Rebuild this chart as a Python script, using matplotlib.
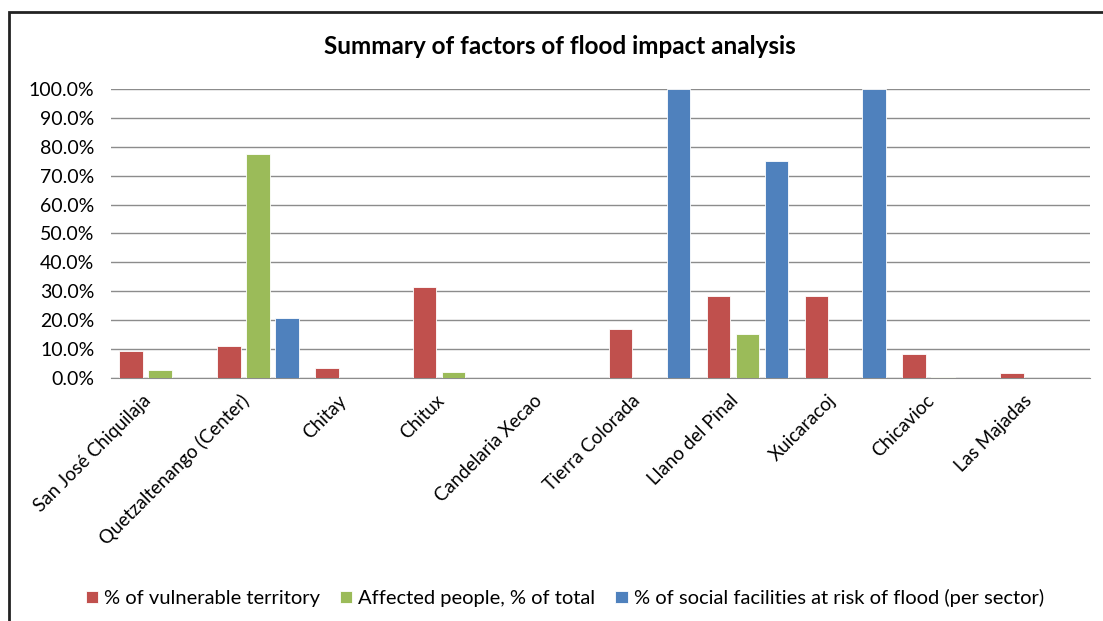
import matplotlib.pyplot as plt
import numpy as np
from matplotlib.patches import Rectangle
from matplotlib.ticker import PercentFormatter
from matplotlib.transforms import ScaledTranslation

plt.rcParams['font.family'] = ['Lato', 'DejaVu Sans']

sectors = ["San José Chiquilaja", "Quetzaltenango (Center)", "Chitay", "Chitux",
           "Candelaria Xecao", "Tierra Colorada", "Llano del Pinal", "Xuicaracoj",
           "Chicavioc", "Las Majadas"]
vulnerable = [9.3, 11.2, 3.4, 31.5, 0.0, 16.9, 28.4, 28.4, 8.3, 1.8]
affected = [2.9, 77.5, 0.0, 2.1, 0.0, 0.0, 15.1, 0.0, 0.5, 0.0]
facilities = [0.0, 20.9, 0.0, 0.0, 0.0, 100.0, 75.1, 100.0, 0.0, 0.0]

series = [
    ("% of vulnerable territory", vulnerable, "#c0504d"),
    ("Affected people, % of total", affected, "#9bbb59"),
    ("% of social facilities at risk of flood (per sector)", facilities, "#4f81bd"),
]

fig = plt.figure(figsize=(11.03, 6.21), dpi=100)
ax = fig.add_axes([111 / 1103, 0.3913, 979 / 1103, 0.4654])

x = np.arange(len(sectors))
step = 0.296
w = 0.24
for i, (name, vals, col) in enumerate(series):
    ax.bar(x + (i - 1) * step, vals, width=w, color=col, edgecolor="white",
           linewidth=0.6, label=name, zorder=3)

ax.set_xlim(-0.5, len(sectors) - 0.5)
ax.set_ylim(0, 100)
ax.set_yticks(np.arange(0, 101, 10))
ax.yaxis.set_major_formatter(PercentFormatter(decimals=1))
ax.grid(axis="y", color="#8c8c8c", linewidth=1.0, zorder=0)
for s in ["top", "right", "left"]:
    ax.spines[s].set_visible(False)
ax.spines["bottom"].set_color("#8c8c8c")
ax.tick_params(axis="y", length=0, labelsize=14, pad=12)
ax.tick_params(axis="x", length=0, labelsize=13.5, pad=10)
ax.set_xticks(x)
ax.set_xticklabels(sectors, rotation=45, ha="right", rotation_mode="anchor")
# nudge rotated labels a little to the left of their ticks
shift = ScaledTranslation(-18 / 100, 0, fig.dpi_scale_trans)
for lbl in ax.get_xticklabels():
    lbl.set_transform(lbl.get_transform() + shift)

fig.text(0.508, 1 - 47 / 621, "Summary of factors of flood impact analysis",
         ha="center", va="center", fontsize=17.5, fontweight="bold")

fig.legend(loc="center", bbox_to_anchor=(0.512, 1 - 598 / 621), ncol=3,
           frameon=False, fontsize=14.5, handlelength=0.6, handleheight=0.6,
           handletextpad=0.3, columnspacing=1.0)

# outer chart frame running off the right and bottom edges
fig.patches.append(Rectangle((9 / 1103, -0.1), 1.2, 1.1 - 12 / 621,
                             transform=fig.transFigure, fill=False,
                             edgecolor="#222222", linewidth=2.0))

fig.savefig("out.png", dpi=100)
